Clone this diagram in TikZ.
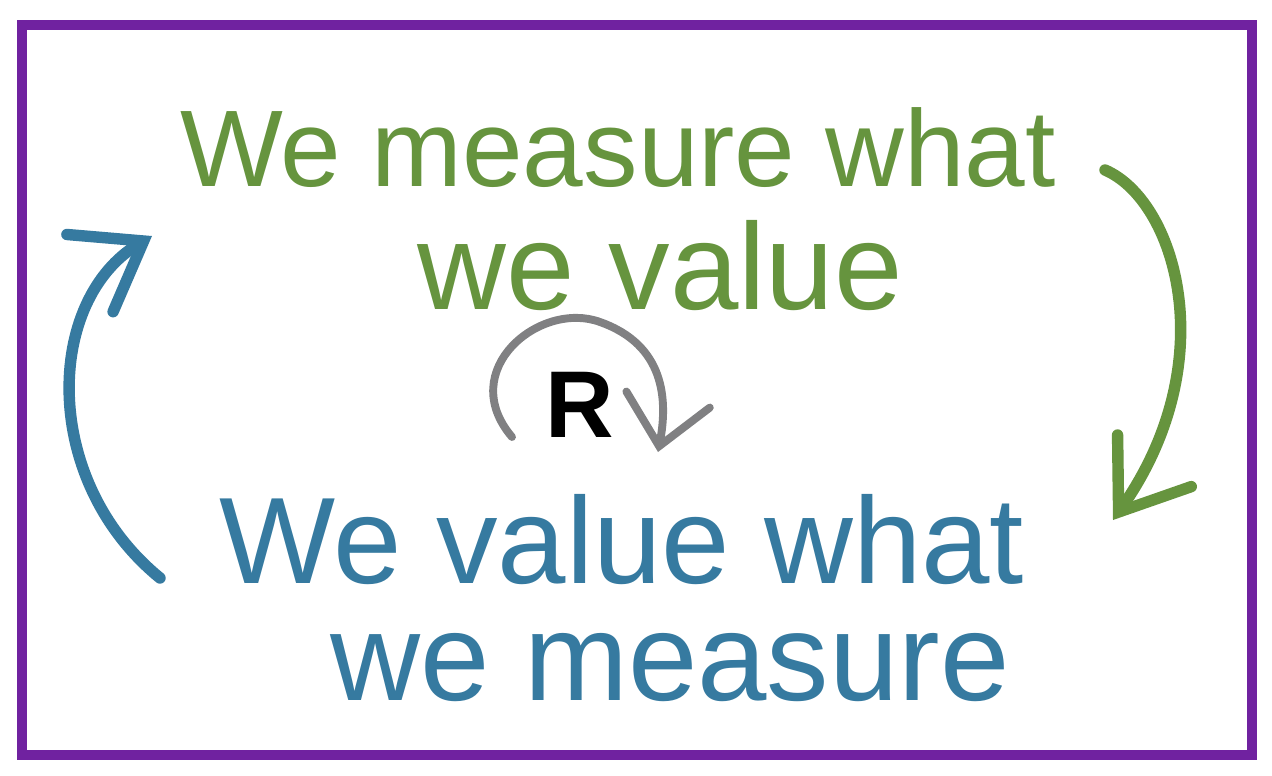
\documentclass[tikz,border=0pt]{standalone}
\usepackage{fontspec}
\setmainfont{Liberation Sans}
\usetikzlibrary{arrows.meta}
\definecolor{framepurple}{RGB}{112,34,160}
\definecolor{measuregreen}{RGB}{102,148,62}
\definecolor{valueblue}{RGB}{54,122,160}
\definecolor{loopgray}{RGB}{128,128,130}
\tikzset{
  handtext/.style={font=\fontsize{#1}{#1}\selectfont, inner sep=0pt},
  handtext/.default=62,
  handline/.style={line width=6.5pt, line cap=round, line join=round},
  handtip/.style={-{Straight Barb[length=1.25cm, width=1.8cm, line cap=round]}}
}
\begin{document}
\begin{tikzpicture}[x=0.02cm, y=-0.02cm]
  \useasboundingbox (0,0) rectangle (1272,775);
  % Rahmen
  \draw[framepurple, line width=5.5pt] (22,25) rectangle (1252,755);
  % oberer Satz (gruen)
  \node[handtext, text=measuregreen] (measure1) at (618,148) {We measure what};
  \node[handtext=70, text=measuregreen] (measure2) at (660,266) {we value};
  % unterer Satz (blau)
  \node[handtext=70, text=valueblue] (value1) at (622,540) {We value what};
  \node[handtext=71, text=valueblue] (value2) at (670,668) {we measure};
  % Schleife R in der Mitte
  \node[font=\fontsize{54}{54}\selectfont\bfseries] (loopR) at (580,405) {R};
  \coordinate (loopstart) at (512,437);
  \coordinate (loopend) at (658,452);
  \draw[loopgray, handline, line width=4.5pt,
        -{Straight Barb[length=0.95cm, width=1.7cm, line cap=round]}]
    (loopstart) .. controls (455,370) and (540,300) .. (600,322)
                .. controls (665,345) and (668,400) .. (loopend);
  % Pfeil rechts (gruen, nach unten)
  \coordinate (greenstart) at (1105,170);
  \coordinate (greenend) at (1113,520);
  \draw[measuregreen, handline, handtip]
    (greenstart) .. controls (1175,200) and (1225,360) .. (greenend);
  % Pfeil links (blau, nach oben)
  \coordinate (bluestart) at (160,578);
  \coordinate (blueend) at (152,236);
  \draw[valueblue, handline, handtip]
    (bluestart) .. controls (40,480) and (45,300) .. (blueend);
\end{tikzpicture}
\end{document}
